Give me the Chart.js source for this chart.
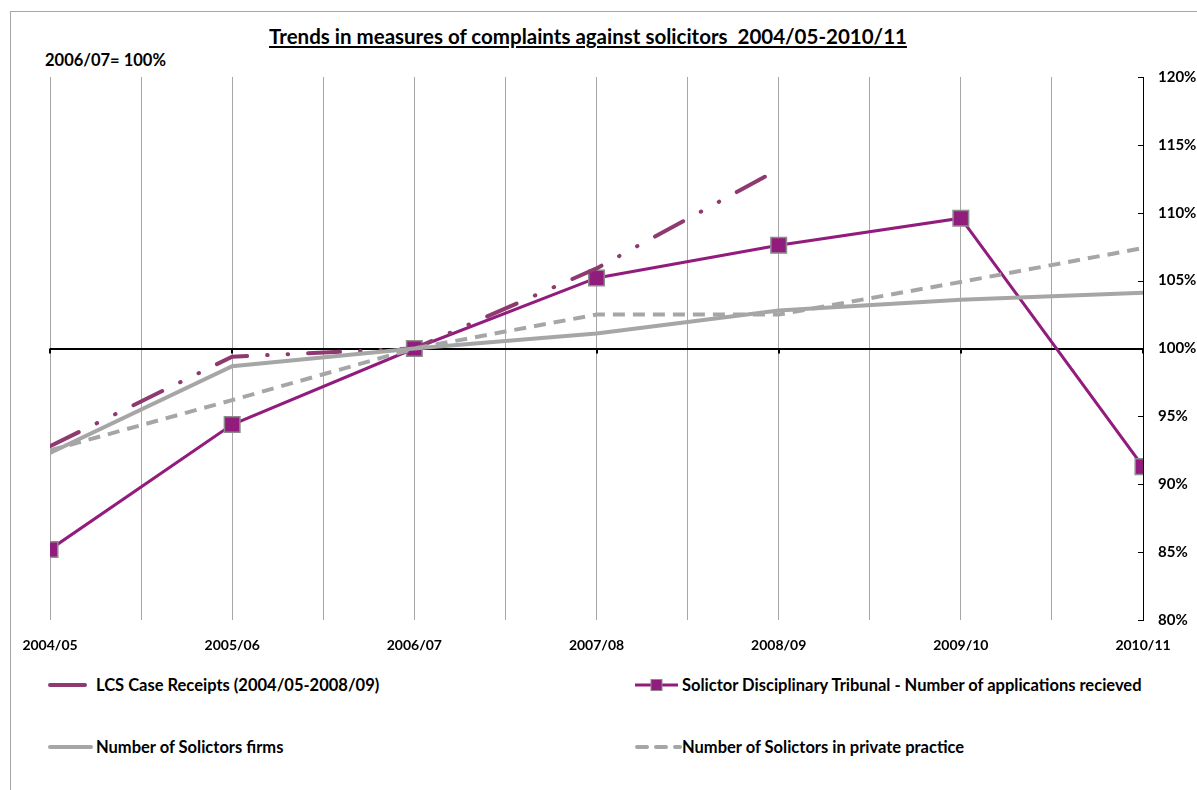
<!DOCTYPE html>
<html>
<head>
<meta charset="utf-8">
<script src="https://cdn.jsdelivr.net/npm/chart.js@4.4.1/dist/chart.umd.min.js"></script>
<style>
  body { margin: 0; background: #fff; font-family: Lato, "Open Sans", sans-serif; }
  #frame { position: absolute; left: 10px; top: 11px; width: 1300px; height: 900px; border: 1px solid #a6a6a6; }
  #title { position: absolute; left: 0; width: 1176px; top: 24px; text-align: center; font-weight: bold; font-size: 20.5px; text-decoration: underline; color: #000; }
  #base { position: absolute; left: 45px; top: 50px; font-weight: bold; font-size: 16.5px; color: #000; }
  #wrap { position: absolute; left: 0; top: 0; width: 1197px; height: 665px; }
  .leg { position: absolute; display: flex; align-items: center; font-weight: bold; font-size: 16.5px; color: #000; white-space: nowrap; height: 20px; }
  .leg svg { flex: none; }
</style>
</head>
<body>
<div id="frame"></div>
<div id="title">Trends in measures of complaints against solicitors&nbsp; 2004/05-2010/11</div>
<div id="base">2006/07= 100%</div>
<div id="wrap"><canvas id="lineChart"></canvas></div>

<div class="leg" style="left:46px; top:675px;">
  <svg width="50" height="10"><line x1="4" y1="5" x2="39" y2="5" stroke="#8e3a70" stroke-width="4" stroke-linecap="round"/></svg>
  LCS Case Receipts (2004/05-2008/09)
</div>
<div class="leg" style="left:634px; top:675px;">
  <svg width="48" height="14"><line x1="1" y1="7" x2="44" y2="7" stroke="#921c7d" stroke-width="3"/><rect x="17" y="1.5" width="11" height="11" fill="#921c7d" stroke="#8c8c8c" stroke-width="1"/></svg>
  Solictor Disciplinary Tribunal - Number of applications recieved
</div>
<div class="leg" style="left:46px; top:737px;">
  <svg width="50" height="10"><line x1="4" y1="5" x2="45" y2="5" stroke="#a6a6a6" stroke-width="4" stroke-linecap="round"/></svg>
  Number of Solictors firms
</div>
<div class="leg" style="left:634px; top:737px;">
  <svg width="48" height="10"><line x1="3" y1="5" x2="46" y2="5" stroke="#a6a6a6" stroke-width="4" stroke-linecap="round" stroke-dasharray="10 9"/></svg>
  Number of Solictors in private practice
</div>

<script>
Chart.defaults.animation = false;

// ================= Data =================
const years = ["2004/05", "2005/06", "2006/07", "2007/08", "2008/09", "2009/10", "2010/11"];
const lcsReceipts = [92.8, 99.4, 100, 105.9, 113.2];
const sdtApplications = [85.2, 94.4, 100, 105.2, 107.6, 109.6, 91.3];
const solicitorFirms = [92.3, 98.7, 100, 101.1, 102.8, 103.6, 104.1];
const privatePractice = [92.5, 96.2, 100, 102.5, 102.5, 104.9, 107.4];
const yTicks = [80, 85, 90, 95, 100, 105, 110, 115, 120];

const toPoints = arr => arr.map((v, i) => ({ x: i, y: v }));

// small inner ticks on the right axis and the 100% baseline
const tickMarks = {
  id: "tickMarks",
  beforeDatasetsDraw(chart) {
    const { ctx, chartArea, scales } = chart;
    ctx.save();
    ctx.strokeStyle = "#000";
    ctx.lineWidth = 1;
    yTicks.forEach(t => {
      const y = Math.round(scales.y.getPixelForValue(t)) + 0.5;
      ctx.beginPath();
      ctx.moveTo(chartArea.right - 5, y);
      ctx.lineTo(chartArea.right, y);
      ctx.stroke();
    });
    const y100 = scales.y.getPixelForValue(100);
    ctx.lineWidth = 2;
    years.forEach((_, i) => {
      const x = Math.round(scales.x.getPixelForValue(i));
      ctx.beginPath();
      ctx.moveTo(x, y100);
      ctx.lineTo(x, y100 + 5);
      ctx.stroke();
    });
    ctx.restore();
  }
};

const ctx = document.getElementById("lineChart");

new Chart(ctx, {
  type: "line",
  data: {
    datasets: [
      {
        label: "Number of Solictors firms",
        data: toPoints(solicitorFirms),
        borderColor: "#a6a6a6",
        borderWidth: 4,
        pointRadius: 0,
        tension: 0
      },
      {
        label: "Number of Solictors in private practice",
        data: toPoints(privatePractice),
        borderColor: "#a6a6a6",
        borderWidth: 4,
        borderDash: [12, 8],
        pointRadius: 0,
        tension: 0
      },
      {
        label: "LCS Case Receipts (2004/05-2008/09)",
        data: toPoints(lcsReceipts),
        borderColor: "#8e3a70",
        borderWidth: 4,
        borderCapStyle: "round",
        borderDash: [32, 20, 0.5, 20, 0.5, 20],
        pointRadius: 0,
        tension: 0
      },
      {
        label: "Solictor Disciplinary Tribunal - Number of applications recieved",
        data: toPoints(sdtApplications),
        borderColor: "#921c7d",
        borderWidth: 3,
        pointStyle: "rect",
        pointRadius: 11,
        pointBackgroundColor: "#921c7d",
        pointBorderColor: "#8c8c8c",
        pointBorderWidth: 1.5,
        tension: 0
      }
    ]
  },
  options: {
    responsive: true,
    maintainAspectRatio: false,
    animations: false,
    layout: { padding: { left: 50, top: 77, right: 0, bottom: 0 } },
    plugins: {
      legend: { display: false },
      tooltip: { enabled: false }
    },
    scales: {
      x: {
        type: "linear",
        min: 0,
        max: years.length - 1,
        afterFit: s => { s.height = 45; },
        border: { display: false },
        grid: { color: "#a6a6a6", lineWidth: 1, drawTicks: false },
        ticks: {
          stepSize: 0.5,
          autoSkip: false,
          maxRotation: 0,
          padding: 17,
          color: "#000",
          font: { family: "Lato", size: 14, weight: "bold" },
          callback: v => Number.isInteger(v) ? years[v] : ""
        }
      },
      y: {
        position: "right",
        min: 80,
        max: 120,
        afterFit: s => { s.width = 54; },
        border: { display: true, color: "#000", width: 1 },
        grid: {
          drawTicks: false,
          color: c => c.tick && c.tick.value === 100 ? "#000" : "rgba(0,0,0,0)",
          lineWidth: c => c.tick && c.tick.value === 100 ? 2 : 1
        },
        ticks: {
          stepSize: 5,
          padding: 15,
          color: "#000",
          font: { family: "Lato", size: 15, weight: "bold" },
          callback: v => v + "%"
        }
      }
    }
  },
  plugins: [tickMarks]
});
</script>
</body>
</html>
